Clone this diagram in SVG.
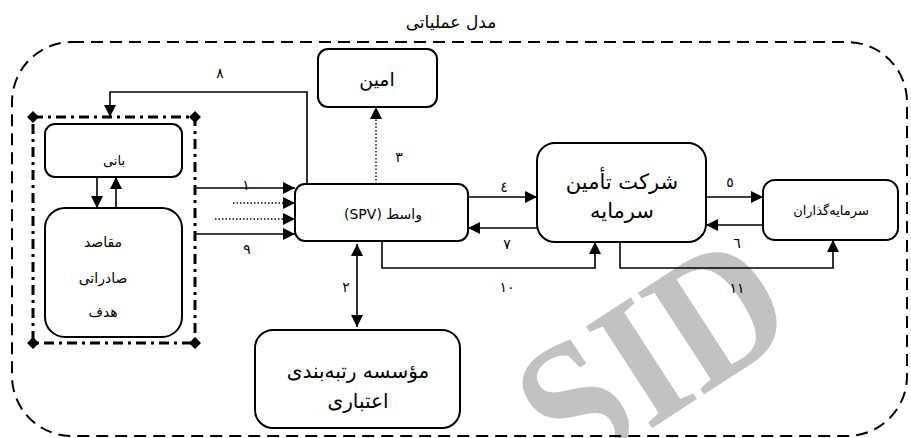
<svg xmlns="http://www.w3.org/2000/svg" width="911" height="438" viewBox="0 0 911 438">
<defs>
<marker id="ah" markerWidth="12" markerHeight="12" viewBox="0 0 12 12" refX="12" refY="6" orient="auto" markerUnits="userSpaceOnUse"><path d="M0,0 L12,6 L0,12 z" fill="#000"/></marker>
<marker id="ahs" markerWidth="12" markerHeight="12" viewBox="0 0 12 12" refX="0" refY="6" orient="auto" markerUnits="userSpaceOnUse"><path d="M12,0 L0,6 L12,12 z" fill="#000"/></marker>
</defs>
<style>
.box{fill:#fff;stroke:#000;stroke-width:2}
.ln{fill:none;stroke:#000;stroke-width:1.6}
.dot{fill:none;stroke:#000;stroke-width:1.4;stroke-dasharray:1.5,2}
.t{font-family:"DejaVu Sans","Noto Sans",sans-serif;fill:#000;text-anchor:middle}
.n{font-family:"DejaVu Sans","Noto Sans",sans-serif;fill:#000;text-anchor:middle;font-size:14px}
</style>
<rect width="911" height="438" fill="#fff"/>
<text transform="translate(686,406) rotate(-33) scale(0.9,1)" x="0" y="0" text-anchor="middle" font-family="Liberation Serif, serif" font-weight="bold" font-size="185" fill="#c2c2c2">SID</text>

<g id="frame">
<rect x="12" y="42" width="895" height="394" rx="60" fill="none" stroke="#000" stroke-width="2" stroke-dasharray="12,7"/>
<text class="t" x="451" y="28" font-size="17" direction="rtl">مدل عملیاتی</text>
</g>

<g id="group-left">
<rect x="33" y="117" width="162" height="226" fill="none" stroke="#000" stroke-width="3" stroke-dasharray="10,5,3,5"/>
<path d="M33,111 l6,6 l-6,6 l-6,-6z M195,111 l6,6 l-6,6 l-6,-6z M33,337 l6,6 l-6,6 l-6,-6z M195,337 l6,6 l-6,6 l-6,-6z" fill="#000"/>
</g>

<g id="bani">
<rect class="box" x="45" y="124" width="137" height="53" rx="10"/>
<text class="t" x="114" y="165" font-size="13" direction="rtl">بانی</text>
</g>

<g id="maghased">
<rect class="box" x="45" y="208" width="137" height="129" rx="20"/>
<text class="t" x="103" y="247" font-size="14" direction="rtl">مقاصد</text>
<text class="t" x="103" y="283" font-size="14" direction="rtl">صادراتی</text>
<text class="t" x="103" y="317" font-size="14" direction="rtl">هدف</text>
</g>

<g id="amin">
<rect class="box" x="318" y="49" width="119" height="58" rx="10"/>
<text class="t" x="377" y="86" font-size="19" direction="rtl">امین</text>
</g>

<g id="spv">
<rect class="box" x="295" y="184" width="173" height="57" rx="10"/>
<text class="t" x="383" y="219" font-size="14" direction="rtl">واسط (SPV)</text>
</g>

<g id="rating">
<rect class="box" x="255" y="330" width="205" height="98" rx="18"/>
<text class="t" x="358" y="378" font-size="20" direction="rtl">مؤسسه رتبه‌بندی</text>
<text class="t" x="358" y="408" font-size="20" direction="rtl">اعتباری</text>
</g>

<g id="company">
<rect class="box" x="537" y="143" width="169" height="99" rx="18"/>
<text class="t" x="622" y="189" font-size="21" direction="rtl">شرکت تأمین</text>
<text class="t" x="622" y="218" font-size="21" direction="rtl">سرمایه</text>
</g>

<g id="investors">
<rect class="box" x="763" y="180" width="135" height="60" rx="12"/>
<text class="t" x="831" y="215" font-size="13" direction="rtl">سرمایه‌گذاران</text>
</g>

<g id="connectors">
<path class="ln" d="M97,177 V208" marker-end="url(#ah)"/>
<path class="ln" d="M116,208 V177" marker-end="url(#ah)"/>
<path class="ln" d="M307,184 V92 H110 V117" marker-end="url(#ah)"/>
<path class="dot" d="M376,184 V107" marker-end="url(#ah)"/>
<path class="ln" d="M195,188 H295" marker-end="url(#ah)"/>
<path class="dot" d="M233,203 H295" marker-end="url(#ah)"/>
<path class="dot" d="M215,219 H295" marker-end="url(#ah)"/>
<path class="ln" d="M195,234 H295" marker-end="url(#ah)"/>
<path class="ln" d="M357,244 V327" marker-start="url(#ahs)" marker-end="url(#ah)"/>
<path class="ln" d="M468,197 H537" marker-end="url(#ah)"/>
<path class="ln" d="M537,228 H468" marker-end="url(#ah)"/>
<path class="ln" d="M382,241 V268 H595 V242" marker-end="url(#ah)"/>
<path class="ln" d="M706,197 H763" marker-end="url(#ah)"/>
<path class="ln" d="M763,225 H706" marker-end="url(#ah)"/>
<path class="ln" d="M620,242 V268 H833 V240" marker-end="url(#ah)"/>
<text class="n" x="220" y="78">٨</text>
<text class="n" x="399" y="162">٣</text>
<text class="n" x="246" y="190">١</text>
<text class="n" x="247" y="254">٩</text>
<text class="n" x="346" y="292">٢</text>
<text class="n" x="504" y="192">٤</text>
<text class="n" x="507" y="249">٧</text>
<text class="n" x="507" y="292">١٠</text>
<text class="n" x="730" y="187">٥</text>
<text class="n" x="737" y="248">٦</text>
<text class="n" x="737" y="293">١١</text>
</g>
</svg>
